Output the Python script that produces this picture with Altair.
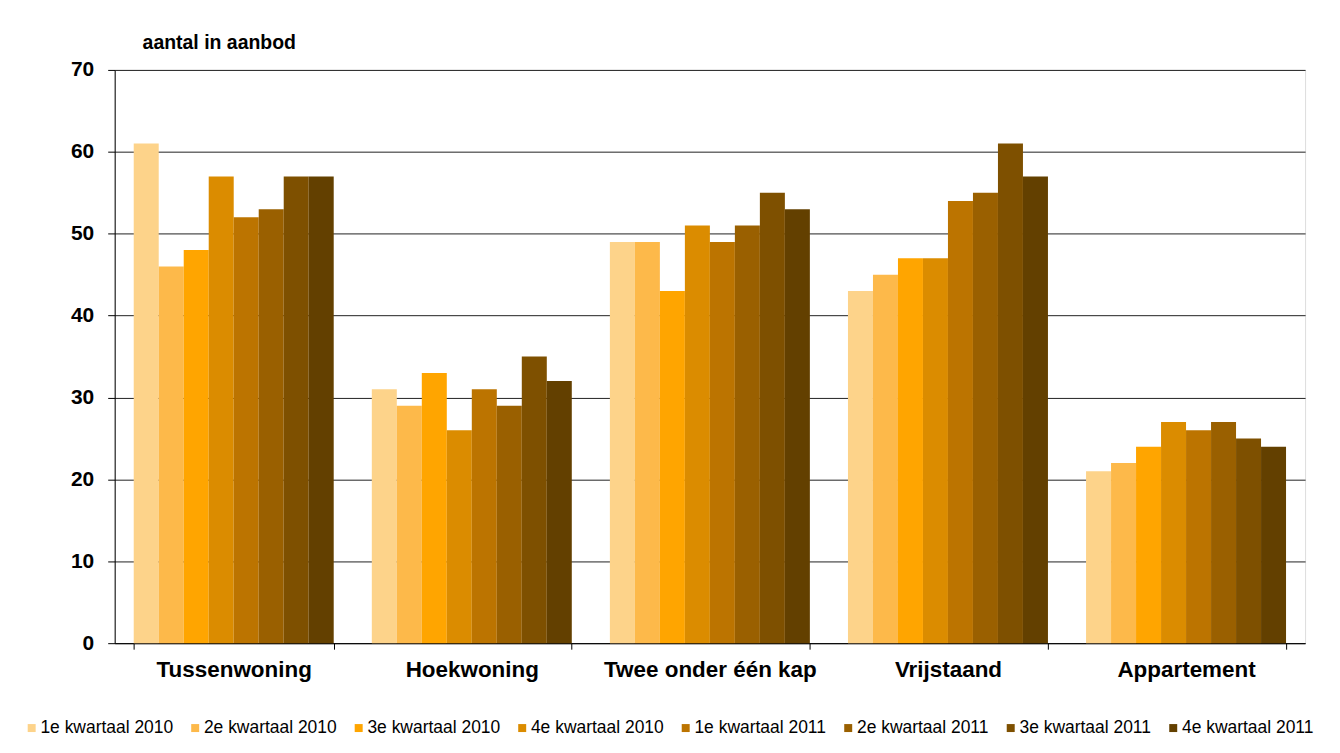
import altair as alt
import pandas as pd

categories = ["Tussenwoning", "Hoekwoning", "Twee onder één kap", "Vrijstaand", "Appartement"]
series = ["1e kwartaal 2010", "2e kwartaal 2010", "3e kwartaal 2010", "4e kwartaal 2010",
          "1e kwartaal 2011", "2e kwartaal 2011", "3e kwartaal 2011", "4e kwartaal 2011"]
colors = ["#FDD38A", "#FDB94A", "#FFA500", "#DB8C00", "#BC7400", "#9A6000", "#7E5000", "#634000"]

values = {
    "Tussenwoning":       [61, 46, 48, 57, 52, 53, 57, 57],
    "Hoekwoning":         [31, 29, 33, 26, 31, 29, 35, 32],
    "Twee onder één kap": [49, 49, 43, 51, 49, 51, 55, 53],
    "Vrijstaand":         [43, 45, 47, 47, 54, 55, 61, 57],
    "Appartement":        [21, 22, 24, 27, 26, 27, 25, 24],
}

rows = []
for c in categories:
    for s, v in zip(series, values[c]):
        rows.append({"type": c, "periode": s, "aantal": v})
df = pd.DataFrame(rows)

font = "Liberation Sans"

bars = alt.Chart(df).mark_bar().encode(
    x=alt.X("type:N", sort=categories,
            scale=alt.Scale(paddingInner=0.16, paddingOuter=0.08),
            axis=alt.Axis(title=None, labelAngle=0, labelFont=font, labelFontSize=22.5,
                          labelFontWeight="bold", labelColor="#000", labelPadding=9,
                          labelLimit=400,
                          tickBand="extent", tickSize=6, tickColor="#000",
                          domainColor="#000", grid=False)),
    xOffset=alt.XOffset("periode:N", sort=series),
    y=alt.Y("aantal:Q",
            scale=alt.Scale(domain=[0, 70], nice=False),
            axis=alt.Axis(title=None, values=[0, 10, 20, 30, 40, 50, 60, 70],
                          labelFont=font, labelFontSize=21, labelFontWeight="bold",
                          labelColor="#000", labelPadding=14, tickSize=7, tickColor="#000",
                          domainColor="#000", gridColor="#222", gridWidth=1)),
    color=alt.Color("periode:N", sort=series,
                    scale=alt.Scale(domain=series, range=colors),
                    legend=alt.Legend(title=None, orient="none", legendX=-92, legendY=651,
                                      direction="horizontal", columns=8,
                                      symbolType="square", symbolSize=64,
                                      symbolStrokeWidth=0,
                                      labelFont=font, labelFontSize=17.5, labelColor="#000",
                                      labelOffset=0, columnPadding=13, labelLimit=300)),
)

chart = bars.properties(
    width=1194,
    height=575,
    title=alt.Title("aantal in aanbod", anchor="start", frame="group", dx=28,
                    font=font, fontSize=19.5, fontWeight="bold", color="#000", offset=5),
    autosize=alt.AutoSizeParams(type="none"),
    padding={"left": 107, "top": 61, "right": 27, "bottom": 95},
).configure_view(
    stroke="#999", strokeWidth=2
).configure(background="white")

chart.save("out.html", embed_options={"renderer": "svg", "actions": False})
